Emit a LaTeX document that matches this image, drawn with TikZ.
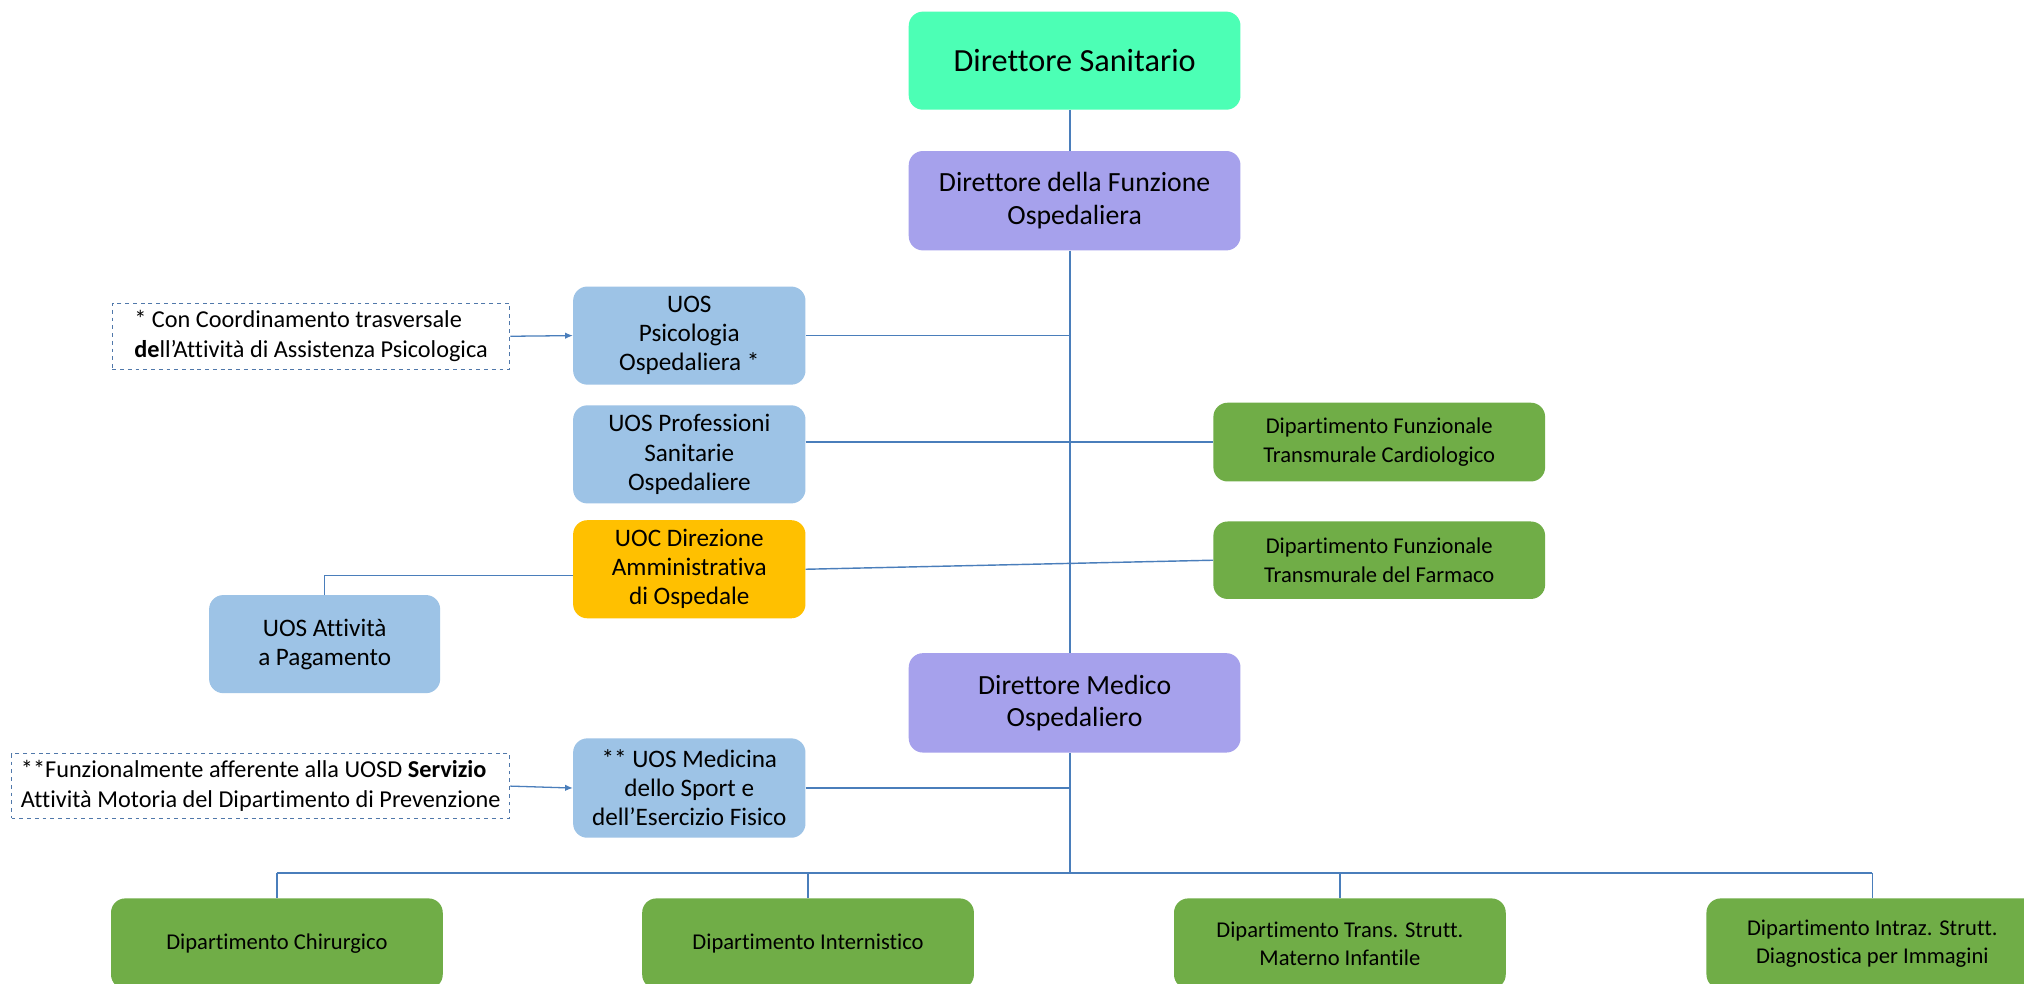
\documentclass[tikz,border=0pt]{standalone}
\usepackage{fontspec}
\setmainfont{Carlito}[RawFeature={-liga;-clig;-calt;-dlig}]
\usetikzlibrary{arrows.meta}
\definecolor{dsgreen}{RGB}{76,255,181}
\definecolor{lav}{RGB}{166,161,236}
\definecolor{lblue}{RGB}{157,195,230}
\definecolor{orng}{RGB}{255,192,0}
\definecolor{dgreen}{RGB}{112,173,71}
\definecolor{lineblue}{RGB}{74,126,187}
\definecolor{notebl}{RGB}{80,120,170}
\tikzset{
  basebox/.style={rectangle, rounded corners=11pt, inner sep=0pt, align=center, text=black},
  topbox/.style={basebox, fill=dsgreen, minimum width=257pt, minimum height=76pt, font=\fontsize{25}{30}\selectfont},
  dirbox/.style={basebox, fill=lav, minimum width=257pt, minimum height=77pt, font=\fontsize{21.5}{25}\selectfont},
  uosbox/.style={basebox, fill=lblue, minimum width=180pt, minimum height=76pt, font=\fontsize{19.5}{22.5}\selectfont},
  uocbox/.style={basebox, fill=orng, minimum width=180pt, minimum height=76pt, font=\fontsize{19.5}{22.5}\selectfont},
  dipbox/.style={basebox, fill=dgreen, minimum width=257pt, minimum height=61pt, font=\fontsize{17.5}{22}\selectfont},
  botbox/.style={basebox, fill=dgreen, minimum width=257pt, minimum height=70pt, font=\fontsize{17.5}{22}\selectfont},
  notebox/.style={rectangle, draw=notebl, dashed, line width=0.9pt, inner sep=0pt, align=left, text=black, font=\fontsize{18.8}{23.5}\selectfont},
  conn/.style={draw=lineblue, line width=1.1pt},
  spineline/.style={draw=lineblue, line width=2pt},
  arr/.style={draw=lineblue, line width=1pt, -{Latex[length=6pt,width=5pt]}}
}
\begin{document}
\begin{tikzpicture}[x=1pt,y=-1pt]
\useasboundingbox (0,0) rectangle (1568,762);
\clip (0,0) rectangle (1568,762);
\fill[white] (0,0) rectangle (1568,762);

\coordinate (spine) at (829,0);
\coordinate (bus) at (0,676);

\node[topbox] (DS) at (832.5,47) {Direttore Sanitario};
\node[dirbox] (DFO) at (832.5,155.5) {Direttore della Funzione\\Ospedaliera};
\node[dirbox] (DMO) at (832.5,544.5) {Direttore Medico\\Ospedaliero};

\node[uosbox] (PSI) at (534,260) {UOS\\Psicologia\\Ospedaliera *};
\node[uosbox] (PROF) at (534,352) {UOS Professioni\\Sanitarie\\Ospedaliere};
\node[uocbox] (UOC) at (534,441) {UOC Direzione\\Amministrativa\\di Ospedale};
\node[uosbox, minimum width=179pt] (ATT) at (251.5,499) {UOS Attività\\a Pagamento};
\node[uosbox, minimum height=77pt] (MED) at (534,610.5) {** UOS Medicina\\dello Sport e\\dell’Esercizio Fisico};

\node[dipbox] (CARD) at (1068.5,342.5) {Dipartimento Funzionale\\Transmurale Cardiologico};
\node[dipbox, minimum height=60pt] (FARM) at (1068.5,434) {Dipartimento Funzionale\\Transmurale del Farmaco};

\node[notebox, minimum width=308pt, minimum height=51pt] (N1) at (241,260.5) {* Con Coordinamento trasversale\\\textbf{de}ll’Attività di Assistenza Psicologica};
\node[notebox, minimum width=386pt, minimum height=50pt] (N2) at (202,609) {**Funzionalmente afferente alla UOSD \textbf{Servizio}\\Attività Motoria del Dipartimento di Prevenzione};

\node[botbox] (CHIR) at (214.5,731) {Dipartimento Chirurgico};
\node[botbox] (INT) at (626,731) {Dipartimento Internistico};
\node[botbox] (MAT) at (1038,731) {Dipartimento Trans. Strutt.\\Materno Infantile};
\node[botbox] (DIAG) at (1450.5,731) {Dipartimento Intraz. Strutt.\\Diagnostica per Immagini};

% spine
\draw[spineline] (DS.south -| spine) -- (DFO.north -| spine);
\draw[spineline] (DFO.south -| spine) -- (DMO.north -| spine);
\draw[spineline] (DMO.south -| spine) -- (bus -| spine);
% bus
\draw[spineline, line width=1.6pt] (CHIR.north |- bus) -- (DIAG.north |- bus);
\draw[conn] (CHIR.north |- bus) -- (CHIR.north);
\draw[conn] (INT.north |- bus) -- (INT.north);
\draw[conn] (MAT.north |- bus) -- (MAT.north);
\draw[conn] (DIAG.north |- bus) -- (DIAG.north);

% side branches
\draw[conn] (PSI.east) -- (PSI.east -| spine);
\draw[conn] (PROF.east |- CARD.west) -- (CARD.west);
\draw[conn] (UOC.east) -- (FARM.west);
\draw[conn] ([yshift=-5pt]UOC.west) -- ([yshift=-5pt]UOC.west -| ATT.north) -- (ATT.north);
\draw[conn] (MED.east) -- (MED.east -| spine);

% notes
\draw[arr] (N1.east) -- (PSI.west);
\draw[arr] (N2.east) -- (MED.west);
\end{tikzpicture}
\end{document}
